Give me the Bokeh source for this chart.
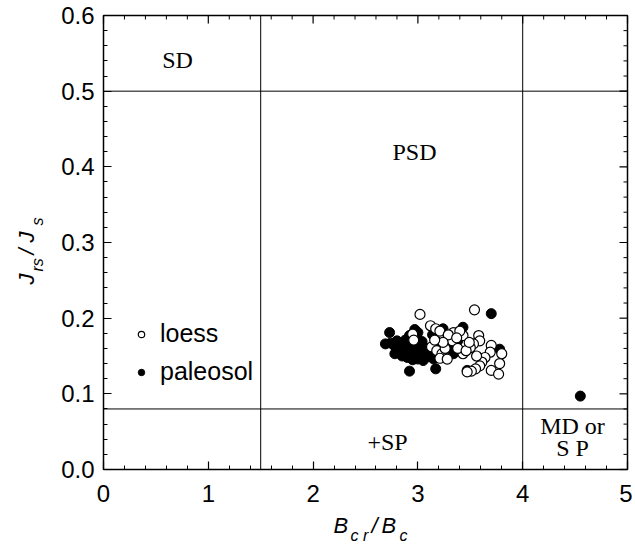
from math import pi
from bokeh.plotting import figure
from bokeh.models import Label, Legend, LegendItem, FixedTicker, Range1d, PrintfTickFormatter
from bokeh.embed import file_html
from bokeh.resources import INLINE

# ---------------- data ----------------
loess_x = [3.02, 3.12, 3.17, 3.21, 2.95, 2.96, 3.13, 3.18, 3.23, 3.21,
           3.54, 3.34, 3.43, 3.58, 3.59, 3.53, 3.50, 3.70, 3.80, 3.69,
           3.64, 3.28, 3.43, 3.61, 3.59, 3.78, 3.55, 3.51, 3.47, 3.70,
           3.77, 3.26, 3.33, 3.38, 3.46, 3.40, 3.29, 3.56, 3.24, 3.16,
           3.49, 3.37]
loess_y = [0.205, 0.190, 0.186, 0.183, 0.179, 0.171, 0.162, 0.157, 0.153, 0.147,
           0.211, 0.181, 0.177, 0.177, 0.170, 0.166, 0.161, 0.164, 0.153, 0.155,
           0.148, 0.146, 0.153, 0.142, 0.137, 0.140, 0.133, 0.130, 0.129, 0.131,
           0.126, 0.160, 0.170, 0.160, 0.157, 0.183, 0.178, 0.150, 0.168, 0.171,
           0.168, 0.174]

paleosol_x = [2.73, 2.69, 2.92, 3.17, 3.24, 3.43, 3.70, 3.28, 3.36, 3.78,
              3.34, 3.47, 4.55, 2.74, 2.78, 2.80, 2.82, 2.84, 2.86, 2.88,
              2.90, 2.92, 2.94, 2.96, 2.99, 3.00, 3.00, 3.02, 3.04, 3.06,
              3.08, 3.10, 3.12, 2.78, 2.85, 2.90, 2.95, 3.00, 2.82, 2.88,
              2.97, 3.00, 2.92, 3.14, 3.18, 3.30, 3.15, 3.05, 3.38]
paleosol_y = [0.181, 0.166, 0.130, 0.133, 0.186, 0.188, 0.206, 0.172, 0.166, 0.159,
              0.153, 0.131, 0.097, 0.167, 0.163, 0.170, 0.160, 0.167, 0.158, 0.171,
              0.163, 0.155, 0.168, 0.160, 0.174, 0.165, 0.152, 0.158, 0.169, 0.151,
              0.160, 0.149, 0.155, 0.153, 0.150, 0.148, 0.145, 0.146, 0.156, 0.157,
              0.185, 0.181, 0.177, 0.178, 0.169, 0.162, 0.146, 0.144, 0.170]

bcr_bc_limits = [1.5, 4.0]      # vertical domain boundaries
jrs_js_limits = [0.08, 0.5]     # horizontal domain boundaries
x_ticks = [0, 1, 2, 3, 4, 5]
y_ticks = [0.0, 0.1, 0.2, 0.3, 0.4, 0.5, 0.6]
series_names = ["loess", "paleosol"]
region_names = ["SD", "PSD", "+SP", "MD or", "S P"]

X0, X1 = x_ticks[0], x_ticks[-1]
Y0, Y1 = y_ticks[0], y_ticks[-1]
x_minor = [round(X0 + 0.2 * i, 3) for i in range(int(round((X1 - X0) / 0.2)) + 1)]
x_minor = [v for v in x_minor if abs(v - round(v)) > 1e-6]
y_minor = [round(Y0 + 0.02 * i, 3) for i in range(int(round((Y1 - Y0) / 0.02)) + 1)]
y_minor = [v for v in y_minor if abs(v * 10 - round(v * 10)) > 1e-6]

# ---------------- layout (pixel box of the axes rectangle) ----------------
W, H = 632, 550
BOX_L, BOX_R, BOX_T, BOX_B = 103, 627, 15, 469
SXU = (BOX_R - BOX_L) / (X1 - X0)
SYU = (BOX_B - BOX_T) / (Y1 - Y0)
xr = Range1d(X0 - BOX_L / SXU, X1 + (W - BOX_R) / SXU)
yr = Range1d(Y0 - (H - BOX_B) / SYU, Y1 + BOX_T / SYU)

def dx(sx):
    return xr.start + sx / SXU
def dy(sy):
    return yr.end - sy / SYU

p = figure(width=W, height=H, x_range=xr, y_range=yr,
           output_backend="svg", toolbar_location=None,
           min_border_left=0, min_border_right=0, min_border_top=0,
           min_border_bottom=0)
p.xgrid.visible = False
p.ygrid.visible = False
p.outline_line_color = None
p.background_fill_color = "white"
p.border_fill_color = "white"

tick_font = "Liberation Sans"

for ax, t, mt in ((p.xaxis[0], x_ticks, x_minor), (p.yaxis[0], y_ticks, y_minor)):
    ax.ticker = FixedTicker(ticks=t, minor_ticks=mt)
    ax.axis_line_color = None
    ax.major_tick_in = 8
    ax.major_tick_out = 0
    ax.minor_tick_in = 4
    ax.minor_tick_out = 0
    ax.major_tick_line_color = "black"
    ax.minor_tick_line_color = "black"
    ax.major_tick_line_width = 1.2
    ax.minor_tick_line_width = 1
    ax.major_label_text_font = tick_font
    ax.major_label_text_font_size = "24px"
    ax.major_label_text_color = "black"
p.xaxis.fixed_location = Y0
p.yaxis.fixed_location = X0
p.yaxis.formatter = PrintfTickFormatter(format="%.1f")
p.xaxis.major_label_standoff = 15
p.yaxis.major_label_standoff = 9

# axes rectangle
p.quad(left=[X0], right=[X1], bottom=[Y0], top=[Y1], fill_color=None,
       line_color="black", line_width=1.5)

# top / right inward ticks
p.ray(x=x_ticks, y=[Y1] * len(x_ticks), length=8, length_units="screen",
      angle=-pi / 2, line_color="black", line_width=1.2)
p.ray(x=x_minor, y=[Y1] * len(x_minor), length=4, length_units="screen",
      angle=-pi / 2, line_color="black", line_width=1)
p.ray(x=[X1] * len(y_ticks), y=y_ticks, length=8, length_units="screen",
      angle=pi, line_color="black", line_width=1.2)
p.ray(x=[X1] * len(y_minor), y=y_minor, length=4, length_units="screen",
      angle=pi, line_color="black", line_width=1)

# domain boundaries
p.segment(x0=bcr_bc_limits, y0=[Y0] * 2, x1=bcr_bc_limits, y1=[Y1] * 2,
          line_color="black", line_width=1)
p.segment(x0=[X0] * 2, y0=jrs_js_limits, x1=[X1] * 2, y1=jrs_js_limits,
          line_color="black", line_width=1)

# data
r_pal = p.scatter(paleosol_x, paleosol_y, size=10, marker="circle",
                  fill_color="black", line_color="black", line_width=1)
r_loe = p.scatter(loess_x, loess_y, size=10, marker="circle",
                  fill_color="white", line_color="black", line_width=1.2)

legend = Legend(items=[LegendItem(label=series_names[0], renderers=[r_loe]),
                       LegendItem(label=series_names[1], renderers=[r_pal])],
                location=(133, H - 386), padding=0, margin=0, spacing=9,
                glyph_width=16, glyph_height=24, label_standoff=11,
                label_text_font=tick_font, label_text_font_size="25px",
                label_text_color="black",
                border_line_color=None, background_fill_alpha=0)
p.add_layout(legend)

# region labels (serif)
region_pos = [(177, 59), (414, 151), (387, 441), (572, 425), (572, 447)]
for name, (sx, sy) in zip(region_names, region_pos):
    p.add_layout(Label(x=dx(sx), y=dy(sy), text=name, text_font="Liberation Serif",
                       text_font_size="24px", text_align="center",
                       text_baseline="middle", text_color="black"))

# axis titles built from pieces (main + subscripts)
def piece(txt, sx, sy, size, angle=0.0):
    p.add_layout(Label(x=dx(sx), y=dy(sy), text=txt, text_font=tick_font,
                       text_font_style="italic", text_font_size=size,
                       text_align="left", text_baseline="alphabetic",
                       angle=angle, text_color="black"))

# x title: B_cr / B_c
piece("B", 333, 525, "22px")
piece("c r", 350, 535, "16px")
piece("/", 371, 525, "22px")
piece("B", 381, 525, "22px")
piece("c", 399, 535, "16px")

# y title: J_rs / J_s (rotated)
piece("J", 26, 284, "22px", pi / 2)
piece("rs", 37, 271, "16px", pi / 2)
piece("/", 26, 254, "22px", pi / 2)
piece("J", 26, 242, "22px", pi / 2)
piece("s", 37, 225, "16px", pi / 2)

open("out.html", "w").write(file_html(p, INLINE))
